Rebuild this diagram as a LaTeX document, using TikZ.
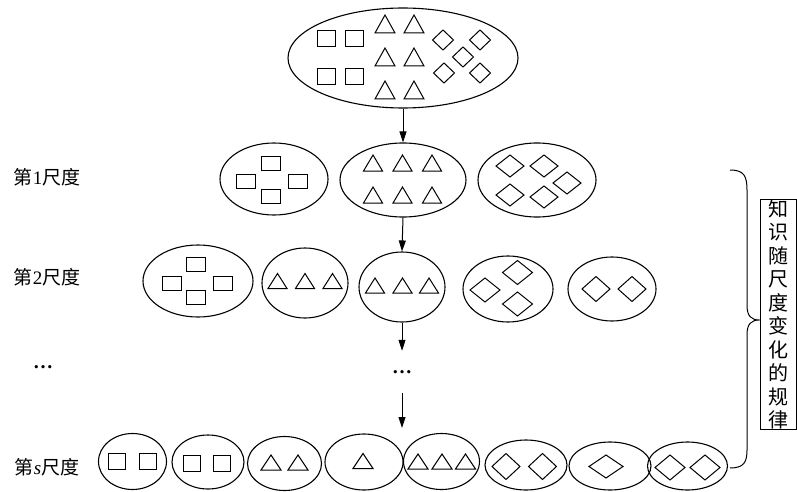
\documentclass[tikz,border=0pt]{standalone}
\usepackage{fontspec}
\setmainfont{Liberation Serif}
\newfontfamily\cjk{Noto Sans CJK SC}
\usetikzlibrary{shapes.geometric,arrows.meta}
\newcommand{\mysq}[4]{\draw[shp] ({#1-#3/2},{#2-#4/2}) rectangle ({#1+#3/2},{#2+#4/2});}
\newcommand{\mytri}[4]{\draw[shp] ({#1-#3/2},{#2+#4/2}) -- ({#1+#3/2},{#2+#4/2}) -- (#1,{#2-#4/2}) -- cycle;}
\newcommand{\mydia}[4]{\draw[shp] ({#1-#3/2},#2) -- (#1,{#2-#4/2}) -- ({#1+#3/2},#2) -- (#1,{#2+#4/2}) -- cycle;}
\begin{document}
\begin{tikzpicture}[x=1pt,y=-1pt,
  ell/.style={draw, ellipse, inner sep=0pt, line width=1.1pt},
  shp/.style={line width=1pt, line join=miter},
  arr/.style={line width=1pt, -{Triangle[length=11pt,width=7pt]}},
  lab/.style={font=\fontsize{19}{23}\selectfont, inner sep=0pt}]
\useasboundingbox (0,0) rectangle (797,492);
% ellipses
\node[ell, minimum width=230, minimum height=100] (e0) at (403,58) {};
\node[ell, minimum width=108, minimum height=72] (r1a) at (274,179) {};
\node[ell, minimum width=126, minimum height=74] (r1b) at (403,180) {};
\node[ell, minimum width=118, minimum height=74] (r1c) at (537,180) {};
\node[ell, minimum width=110, minimum height=72] (r2a) at (198,281) {};
\node[ell, minimum width=86, minimum height=70] (r2b) at (305,283) {};
\node[ell, minimum width=86, minimum height=70] (r2c) at (402,287) {};
\node[ell, minimum width=90, minimum height=66] (r2d) at (508,289) {};
\node[ell, minimum width=88, minimum height=64] (r2e) at (612,289) {};
\node[ell, minimum width=68, minimum height=56] (r3a) at (132.5,461.5) {};
\node[ell, minimum width=72, minimum height=54] (r3b) at (208,462) {};
\node[ell, minimum width=74, minimum height=54] (r3c) at (284.5,463.5) {};
\node[ell, minimum width=78, minimum height=56] (r3d) at (364,462) {};
\node[ell, minimum width=76, minimum height=56] (r3e) at (441.5,461.5) {};
\node[ell, minimum width=82, minimum height=50] (r3f) at (526,465) {};
\node[ell, minimum width=82, minimum height=48] (r3g) at (610,466) {};
\node[ell, minimum width=80, minimum height=48] (r3h) at (687.5,466) {};
% top contents
\mysq{326}{39}{18}{16}\mysq{354}{39}{18}{16}\mysq{326}{77}{18}{16}\mysq{354}{77}{18}{16}
\mytri{385}{24}{20}{18}\mytri{414}{24}{20}{18}
\mytri{385}{57}{20}{18}\mytri{414}{57}{20}{18}
\mytri{385}{90}{20}{18}\mytri{414}{90}{20}{18}
\mydia{443}{40}{21}{20}\mydia{480}{40}{21}{20}\mydia{463}{57}{21}{20}
\mydia{444}{73}{21}{20}\mydia{480}{73}{21}{20}
% row 1
\mysq{271}{163}{19}{14}\mysq{246}{181}{19}{14}\mysq{298}{181}{19}{14}\mysq{271}{196}{19}{14}
\mytri{373}{163}{19}{16}\mytri{402.5}{163}{19}{16}\mytri{432}{163}{19}{16}
\mytri{373}{195}{19}{16}\mytri{402.5}{195}{19}{16}\mytri{432}{195}{19}{16}
\mydia{510}{166}{28}{22}\mydia{544}{166}{28}{22}\mydia{567}{183}{28}{22}
\mydia{510}{195}{28}{22}\mydia{544}{197}{28}{22}
% row 2
\mysq{195.5}{264.5}{19}{14}\mysq{171.5}{283}{19}{14}\mysq{222.5}{283}{19}{14}\mysq{195.5}{297.5}{19}{14}
\mytri{277.5}{281}{19}{15}\mytri{305}{281}{19}{15}\mytri{332.5}{281}{19}{15}
\mytri{375}{285.5}{19}{15}\mytri{402.5}{285.5}{19}{15}\mytri{429}{285.5}{19}{15}
\mydia{485}{290}{30}{24}\mydia{517.5}{272.5}{30}{24}\mydia{517.5}{304}{30}{24}
\mydia{596}{289}{28}{25}\mydia{632}{289}{28}{25}
% row s
\mysq{116.5}{461.5}{17}{16}\mysq{147.5}{461.5}{17}{16}
\mysq{191.5}{463.5}{17}{16}\mysq{222}{463.5}{17}{16}
\mytri{271}{462.5}{20}{15}\mytri{298}{462.5}{20}{15}
\mytri{363}{461}{20}{15}
\mytri{418}{461.5}{20}{15}\mytri{442}{461.5}{20}{15}\mytri{465.5}{461.5}{20}{15}
\mydia{506}{466.5}{28}{26}\mydia{542.5}{466.5}{28}{26}
\mydia{606}{466.5}{34}{23}
\mydia{670}{467.5}{30}{25}\mydia{705}{467.5}{30}{25}
% arrows
\node[inner sep=0pt, minimum height=36, font=\bfseries\fontsize{20}{22}\selectfont] (dots) at (402,372) {\textellipsis};
\coordinate (aend) at (402,428);
\draw[arr] (e0.south) -- (r1b.north);
\draw[arr] (r1b.south) -- (r2c.north);
\draw[arr] (r2c.south) -- ([yshift=3pt]dots.north);
\draw[arr] ([yshift=-3pt]dots.south) -- (aend);
% labels
\node[lab] (l1) at (47,177) {{\cjk 第}1{\cjk 尺度}};
\node[lab] (l2) at (47,277) {{\cjk 第}2{\cjk 尺度}};
\node[lab, font=\bfseries\fontsize{20}{22}\selectfont] (l3) at (43,367) {\textellipsis};
\node[lab] (l4) at (47,467) {{\cjk 第}\textit{s}{\cjk 尺度}};
% brace and box
\node[draw, line width=0.9pt, minimum width=36, minimum height=225, inner sep=0pt,
      align=center, font=\cjk\fontsize{20}{23.5}\selectfont] (box) at (778,314.5)
  {知\\识\\随\\尺\\度\\变\\化\\的\\规\\律};
\draw[line width=1pt] (730,170) .. controls (744,170) and (747,176) .. (747,190) -- (747,305)
  .. controls (747,316) and (751,320) .. (box.west |- 0,320) .. controls (751,320) and (747,324) .. (747,335)
  -- (747,450) .. controls (747,462) and (744,468) .. (730,468);
\end{tikzpicture}
\end{document}
